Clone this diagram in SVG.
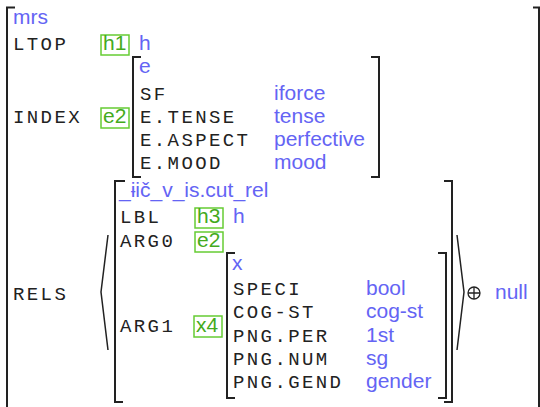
<svg xmlns="http://www.w3.org/2000/svg" width="540" height="407" viewBox="0 0 540 407">
<style>
.m{font-family:"Liberation Mono",monospace;font-size:19px;letter-spacing:2.4px;fill:#222}
.v{font-family:"Liberation Sans",Arial,sans-serif;font-size:21px;fill:#6464f4}
.t{font-family:"Liberation Sans",Arial,sans-serif;font-size:21px;fill:#44aa1c}
.b{fill:none;stroke:#66cc33;stroke-width:1.5}
.br{fill:none;stroke:#222;stroke-width:2}
.an{fill:none;stroke:#222;stroke-width:1.5}
</style>
<rect width="540" height="407" fill="#fff"/>
<g id="connectors">
<path class="br" d="M15,7.5H7V407M533,7.5H539V407"/>
<path class="br" d="M141,57H133V177H141M371,57H379V177H371"/>
<path class="br" d="M125,181H115V402H123M444,181H452V402H444"/>
<path class="br" d="M235,253H227V398H235M438,253H446V398H438"/>
<polyline class="an" points="108,235 101,292 108,350"/>
<polyline class="an" points="457,235 464,292 457,350"/>
</g>
<g id="mrs">
<text class="v" x="13" y="24">mrs</text>
<text class="m" x="13" y="50">LTOP</text>
<text class="m" x="13" y="123">INDEX</text>
<text class="m" x="13" y="300">RELS</text>
</g>
<g id="h1">
<rect class="b" x="101" y="35" width="28" height="20"/>
<text class="t" x="103" y="50">h1</text>
<text class="v" x="139" y="50">h</text>
</g>
<g id="e2-index">
<rect class="b" x="101" y="108" width="28" height="20"/>
<text class="t" x="103" y="123">e2</text>
<text class="v" x="139" y="73">e</text>
<text class="m" x="140" y="100">SF</text>
<text class="v" x="274" y="100">iforce</text>
<text class="m" x="140" y="123">E.TENSE</text>
<text class="v" x="274" y="123">tense</text>
<text class="m" x="140" y="146">E.ASPECT</text>
<text class="v" x="274" y="146">perfective</text>
<text class="m" x="140" y="169">E.MOOD</text>
<text class="v" x="274" y="169">mood</text>
</g>
<g id="rel">
<text class="v" x="119" y="197">_ɨič_v_is.cut_rel</text>
<text class="m" x="120" y="223">LBL</text>
<text class="m" x="120" y="247">ARG0</text>
<text class="m" x="120" y="332">ARG1</text>
</g>
<g id="h3">
<rect class="b" x="195" y="208" width="28" height="20"/>
<text class="t" x="197" y="223">h3</text>
<text class="v" x="233" y="223">h</text>
</g>
<g id="e2-arg0">
<rect class="b" x="195" y="232" width="28" height="20"/>
<text class="t" x="197" y="247">e2</text>
</g>
<g id="x4">
<rect class="b" x="194" y="316" width="28" height="21"/>
<text class="t" x="196" y="332">x4</text>
<text class="v" x="232" y="270">x</text>
<text class="m" x="233" y="295">SPECI</text>
<text class="v" x="366" y="295">bool</text>
<text class="m" x="233" y="318">COG-ST</text>
<text class="v" x="366" y="318">cog-st</text>
<text class="m" x="233" y="342">PNG.PER</text>
<text class="v" x="366" y="342">1st</text>
<text class="m" x="233" y="365">PNG.NUM</text>
<text class="v" x="366" y="365">sg</text>
<text class="m" x="233" y="388">PNG.GEND</text>
<text class="v" x="366" y="388">gender</text>
</g>
<g id="append">
<circle cx="474" cy="293" r="6" fill="none" stroke="#222" stroke-width="1.3"/>
<path d="M468,293H480M474,287V299" stroke="#222" stroke-width="1.3"/>
<text class="v" x="495" y="299">null</text>
</g>
</svg>
